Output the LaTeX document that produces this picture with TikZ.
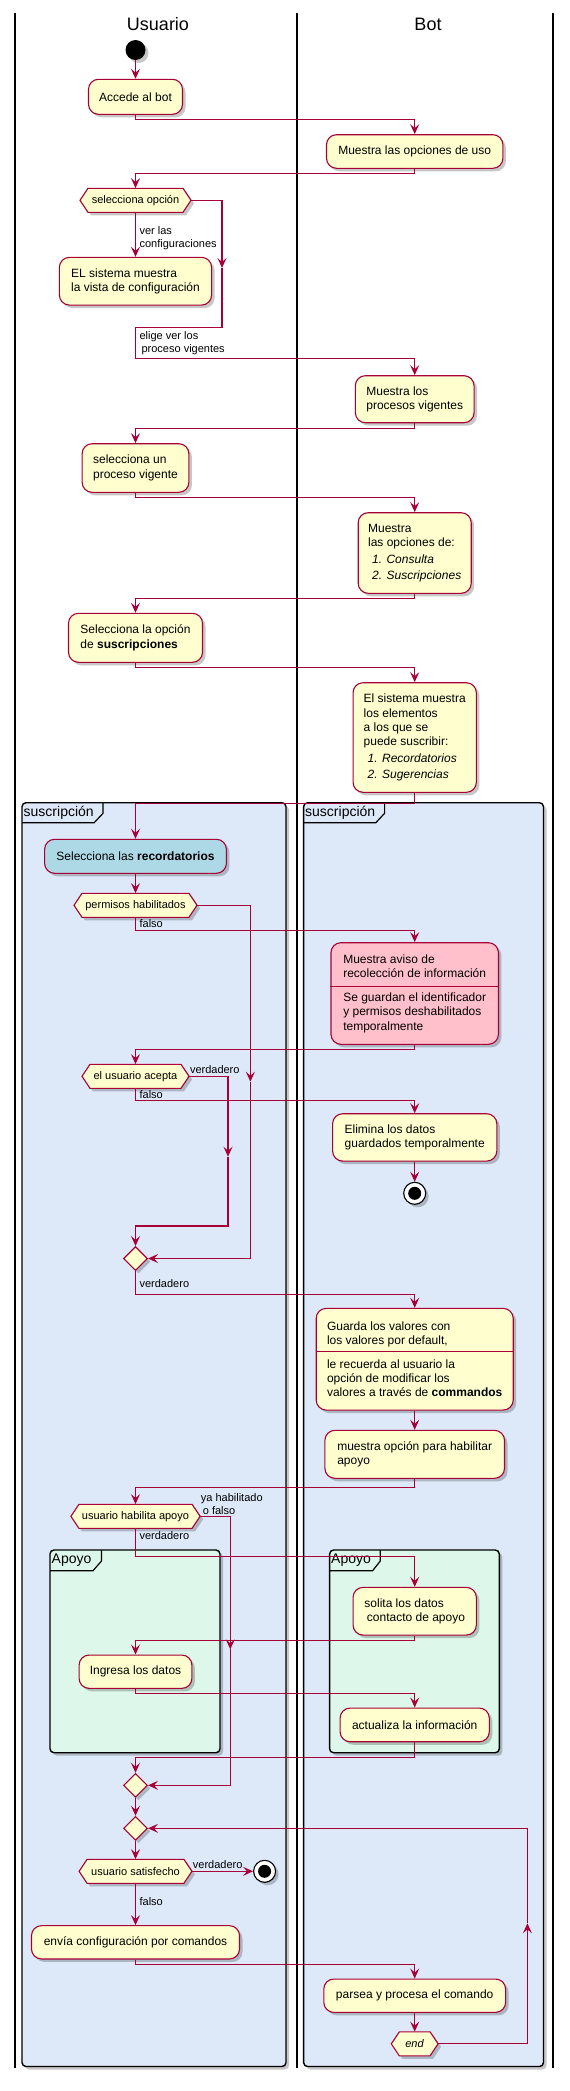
\documentclass[tikz,border=0pt]{standalone}
\usepackage{fontspec}
\setmainfont{Liberation Sans}
\usetikzlibrary{arrows.meta,shapes.geometric,shadows,calc}

\definecolor{actfill}{HTML}{FEFECE}
\definecolor{actline}{HTML}{A80036}
\definecolor{frfill}{HTML}{DDE9F9}
\definecolor{apfill}{HTML}{DDF8EA}
\definecolor{pinkfill}{HTML}{FFC0CB}
\definecolor{bluefill}{HTML}{ADD8E6}

\tikzset{
 shd/.style={drop shadow={shadow xshift=3pt, shadow yshift=-3pt, opacity=0.22, fill=black}},
 act/.style={draw=actline, fill=actfill, line width=1.1pt, rounded corners=10pt, shd, align=left, inner sep=0pt, font=\fontsize{12}{14.3}\selectfont},
 arr/.style={draw=actline, line width=1.1pt, -{Stealth[length=10pt,width=9pt,inset=4pt]}},
 ln/.style={draw=actline, line width=1.1pt},
 lbl/.style={font=\fontsize{11}{13}\selectfont, inner sep=0pt, anchor=west, align=left},
 mrg/.style={diamond, draw=actline, fill=actfill, line width=1.1pt, minimum width=24pt, minimum height=24pt, inner sep=0pt, shd},
 lane/.style={draw=black, line width=1.3pt},
 frm/.style={draw=black, line width=1.4pt, rounded corners=4pt, shd},
 tab/.style={draw=black, line width=1.2pt},
 frlbl/.style={font=\fontsize{14}{16}\selectfont, inner sep=0pt, anchor=west},
 stopc/.style={circle, draw=black, fill=white, line width=1.1pt, minimum size=22pt, inner sep=0pt, shd}
}

\newcommand{\hexdec}[5]{%
  \path[draw=actline, fill=actfill, line width=1.1pt, shd] ({#2-#4},#3) -- ({#2-#4+8},{#3-12}) -- ({#2+#4-8},{#3-12}) -- ({#2+#4},#3) -- ({#2+#4-8},{#3+12}) -- ({#2-#4+8},{#3+12}) -- cycle;
  \node[font=\fontsize{11}{13}\selectfont, minimum width=2*#4pt, minimum height=24pt, inner sep=0pt] (#1) at (#2,#3) {#5};
}

\begin{document}
\begin{tikzpicture}[x=1pt,y=-1pt]
\useasboundingbox (0,0) rectangle (570,2091);
\fill[white] (0,0) rectangle (570,2091);

% lanes
\draw[lane] (15,12.7) -- (15,2068);
\draw[lane] (297,12.7) -- (297,2068);
\draw[lane] (553,12.7) -- (553,2068);
\node[font=\fontsize{18}{21}\selectfont] (tU) at (158,24) {Usuario};
\node[font=\fontsize{18}{21}\selectfont] (tB) at (428,24) {Bot};

% frames suscripcion
\draw[frm, fill=frfill] (22,802.7) rectangle (286,2066.5);
\draw[tab] (22,822.7) -- (94.2,822.7) -- (103,813.3) -- (103,802.7);
\node[frlbl] (fs1) at (23.5,812.3) {suscripción};
\draw[frm, fill=frfill] (303.6,802.7) rectangle (543.5,2066.5);
\draw[tab] (303.6,822.7) -- (375.8,822.7) -- (384.6,813.3) -- (384.6,802.7);
\node[frlbl] (fs2) at (305,812.3) {suscripción};

% frames apoyo
\draw[frm, fill=apfill] (50,1550) rectangle (220,1752.7);
\draw[tab] (50,1570.7) -- (93,1570.7) -- (101.5,1561) -- (101.5,1550);
\node[frlbl] (fa1) at (51.5,1560.5) {Apoyo};
\draw[frm, fill=apfill] (329.6,1550) rectangle (499.3,1752.7);
\draw[tab] (329.6,1570.7) -- (372.6,1570.7) -- (380.3,1561) -- (380.3,1550);
\node[frlbl] (fa2) at (331,1560.5) {Apoyo};

% nodes
\node[circle, fill=black, minimum size=20pt, inner sep=0pt, shd] (start) at (135.5,50) {};
\node[act, minimum width=94pt, minimum height=35pt] (a1) at (135.5,96.8) {Accede al bot};
\node[act, minimum width=176.4pt, minimum height=33.6pt] (b1) at (414.7,151.5) {Muestra las opciones de uso};
\hexdec{d1}{135.5}{200.3}{55.5}{selecciona opción}
\node[act, minimum width=152.2pt, minimum height=47.7pt] (a2) at (135.5,281.2) {EL sistema muestra\\la vista de configuración};
\node[act, minimum width=118.7pt, minimum height=47pt] (b2) at (414.7,399.2) {Muestra los\\procesos vigentes};
\node[act, minimum width=106.7pt, minimum height=48.6pt] (a3) at (135.5,468) {selecciona un\\proceso vigente};
\node[act, minimum width=113pt, minimum height=80.6pt] (b3) at (414.7,553) {Muestra\\las opciones de:\\[2.5pt]\hspace{4pt}\textit{1. Consulta}\\[2pt]\hspace{4pt}\textit{2. Suscripciones}};
\node[act, minimum width=134pt, minimum height=49pt] (a4) at (135.5,637.8) {Selecciona la opción\\de \textbf{suscripciones}};
\node[act, minimum width=123.3pt, minimum height=109.6pt] (b4) at (414.7,737.5) {El sistema muestra\\los elementos\\a los que se\\puede suscribir:\\[2pt]\hspace{4pt}\textit{1. Recordatorios}\\[2pt]\hspace{4pt}\textit{2. Sugerencias}};
\node[act, fill=bluefill, minimum width=181.8pt, minimum height=34pt] (a5) at (135.5,856.3) {Selecciona las \textbf{recordatorios}};
\hexdec{d2}{135.5}{905.3}{61.5}{permisos habilitados}
\node[act, fill=pinkfill, minimum width=167.5pt, minimum height=101.6pt] (b5) at (414.7,993.5) {Muestra aviso de\\recolección de información\\[10pt]Se guardan el identificador\\y permisos deshabilitados\\temporalmente};
\draw[ln] (b5.west |- 0,986.7) -- (b5.east |- 0,986.7);
\hexdec{d3}{135.5}{1076.3}{53.5}{el usuario acepta}
\node[act, minimum width=164.2pt, minimum height=47.3pt] (b6) at (414.7,1137.4) {Elimina los datos\\guardados temporalmente};
\node[stopc] (s1) at (414.7,1193.3) {};
\fill[black] (s1.center) circle (6.5pt);
\node[mrg] (m1) at (135.5,1258.5) {};
\node[act, minimum width=197pt, minimum height=101.7pt] (b7) at (414.7,1359.2) {Guarda los valores con\\los valores por default,\\[9.5pt]le recuerda al usuario la\\opción de modificar los\\valores a través de \textbf{commandos}};
\draw[ln] (b7.west |- 0,1351.7) -- (b7.east |- 0,1351.7);
\node[act, minimum width=179.6pt, minimum height=48pt] (b8) at (414.7,1454.3) {muestra opción para habilitar\\apoyo};
\hexdec{d4}{135.5}{1516.3}{64.6}{usuario habilita apoyo}
\node[act, minimum width=123.3pt, minimum height=47.7pt] (b9) at (414.7,1611.2) {solita los datos\\\hspace{2.5pt}contacto de apoyo};
\node[act, minimum width=112.8pt, minimum height=33.3pt] (a6) at (135.5,1671.7) {Ingresa los datos};
\node[act, minimum width=149.2pt, minimum height=33.7pt] (b10) at (414.7,1724.9) {actualiza la información};
\node[mrg] (m2) at (135.5,1785.3) {};
\node[mrg] (m3) at (135.5,1828.3) {};
\hexdec{d5}{135.5}{1871.3}{56.4}{usuario satisfecho}
\node[stopc] (s2) at (264.6,1871.3) {};
\fill[black] (s2.center) circle (6.5pt);
\node[act, minimum width=208pt, minimum height=33.3pt] (a7) at (135.5,1942.3) {envía configuración por comandos};
\node[act, minimum width=181.8pt, minimum height=33.3pt] (b11) at (414.7,1995.7) {parsea y procesa el comando};
\hexdec{d6}{414.7}{2043.8}{23.4}{\textit{end}}

% helper coordinates
\coordinate (k0) at (222,268);
\coordinate (j1) at (135.5,327.3);
\coordinate (k1) at (250.4,1081.7);
\coordinate (k2) at (228,1156.7);
\coordinate (k3) at (230.3,1649.3);
\coordinate (k4) at (527.4,1923.3);

% connectors
\draw[arr] (start) -- (a1);
\draw[arr] (a1.south) -- ++(0,4.7) -| (b1.north);
\draw[arr] (b1.south) -- ++(0,5) -| (d1.north);
\draw[arr] (d1.south) -- (a2.north);
\node[lbl] (l1) at (139.4,238.5) {ver las\\configuraciones};
\draw[arr] (d1.east) -| (k0);
\draw[ln] (k0) |- (j1);
\draw[arr] (j1) -- ++(0,31) -| (b2.north);
\node[lbl] (l2) at (139.4,343) {elige ver los\\\hspace{2pt}proceso vigentes};
\draw[arr] (b2.south) -- ++(0,5.6) -| (a3.north);
\draw[arr] (a3.south) -- ++(0,5) -| (b3.north);
\draw[arr] (b3.south) -- ++(0,5) -| (a4.north);
\draw[arr] (a4.south) -- ++(0,5) -| (b4.north);
\draw[arr] (b4.south) -- ++(0,10.4) -| (a5.north);
\draw[arr] (a5) -- (d2);
\draw[arr] (d2.east) -| (k1);
\draw[arr] (k1) |- (m1.east);
\draw[arr] (d2.south) -- ++(0,13) -| (b5.north);
\node[lbl] (l3) at (139.4,924) {falso};
\draw[arr] (b5.south) -- ++(0,5) -| (d3.north);
\draw[arr] (d3.east) -| (k2);
\draw[arr] (k2) -- (228,1226) -| (m1.north);
\node[lbl] (l4) at (189.8,1069.3) {verdadero};
\draw[arr] (d3.south) -- ++(0,12.4) -| (b6.north);
\node[lbl] (l5) at (139.4,1095) {falso};
\draw[arr] (b6) -- (s1);
\draw[arr] (m1.south) -- ++(0,23) -| (b7.north);
\node[lbl] (l6) at (139.4,1283.3) {verdadero};
\draw[arr] (b7) -- (b8);
\draw[arr] (b8.south) -- ++(0,9) -| (d4.north);
\draw[arr] (d4.east) -| (k3);
\draw[arr] (k3) |- (m2.east);
\node[lbl] (l7) at (200.7,1503.8) {ya habilitado\\\hspace{2pt}o falso};
\draw[arr] (d4.south) -- ++(0,28.4) -| (b9.north);
\node[lbl] (l8) at (139.4,1535.3) {verdadero};
\draw[arr] (b9.south) -- ++(0,5) -| (a6.north);
\draw[arr] (a6.south) -- ++(0,5) -| (b10.north);
\draw[arr] (b10.south) -- ++(0,15) -| (m2.north);
\draw[arr] (m2) -- (m3);
\draw[arr] (m3) -- (d5);
\draw[arr] (d5.east) -- (s2.west);
\node[lbl] (l9) at (192.7,1865) {verdadero};
\draw[arr] (d5.south) -- (a7.north);
\node[lbl] (l10) at (139.4,1901.7) {falso};
\draw[arr] (a7.south) -- ++(0,5) -| (b11.north);
\draw[arr] (b11) -- (d6);
\draw[arr] (d6.east) -| (k4);
\draw[arr] (k4) |- (m3.east);
\end{tikzpicture}
\end{document}
